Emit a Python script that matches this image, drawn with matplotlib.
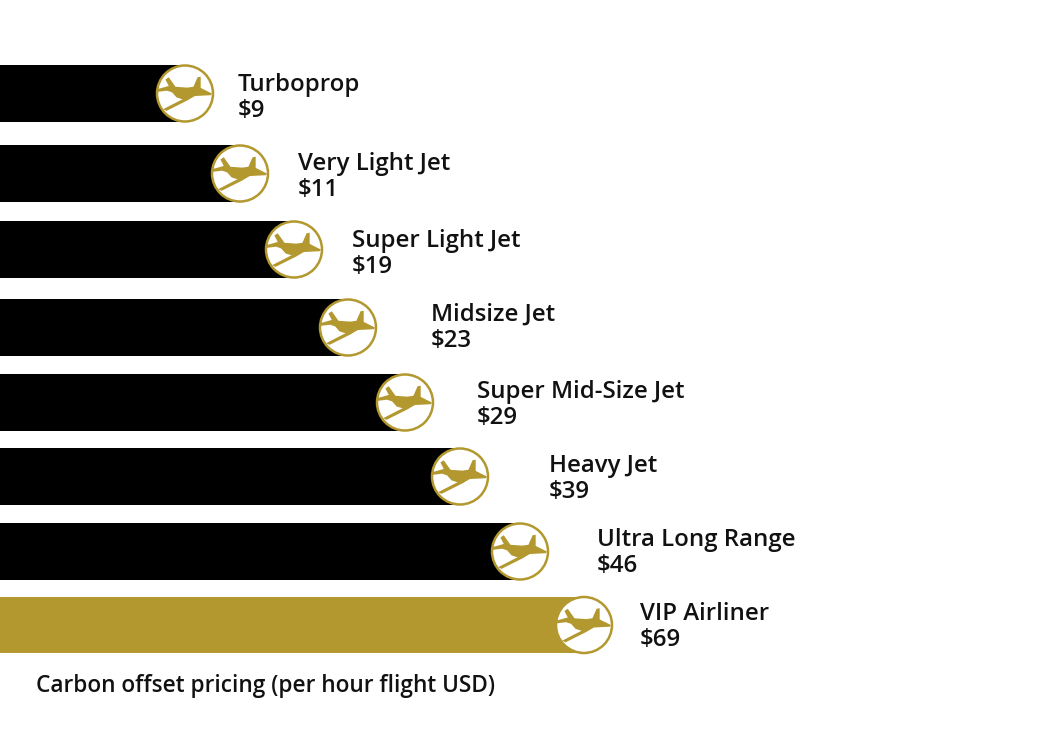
import matplotlib
matplotlib.use("Agg")
import matplotlib.pyplot as plt
from matplotlib.patches import Circle, Polygon

categories = ["Turboprop", "Very Light Jet", "Super Light Jet", "Midsize Jet",
              "Super Mid-Size Jet", "Heavy Jet", "Ultra Long Range", "VIP Airliner"]
prices = [9, 11, 19, 23, 29, 39, 46, 69]
bar_lengths = [185, 240, 294, 348, 405, 460, 520, 584]
footer = "Carbon offset pricing (per hour flight USD)"

bar_tops = [65, 145, 221, 299, 374, 448, 523, 597]
bar_bottoms = [122, 202, 278, 356, 431, 505, 580, 653]
label_x = [238, 298, 352, 431, 477, 549, 597, 640]
label_y = [85, 164, 241, 315, 392, 466, 540, 614]
GOLD = "#b2982f"
BLACK = "#000000"
TEXT = "#111111"

plane_body = [(-.97, -.16), (-.58, -.27), (-.70, -.50), (-.58, -.58), (-.34, -.24), (.08, -.21),
              (.30, -.24), (.45, -.58), (.56, -.60), (.56, -.20), (.96, .00), (.93, .06),
              (.36, .09), (.02, .24), (-.30, .14), (-.46, -.04), (-.64, -.10), (-.97, -.06)]
plane_wing = [(-.78, .56), (.02, .15), (.32, .10), (.10, .24), (-.66, .62)]

plt.rcParams["font.family"] = ["Open Sans", "DejaVu Sans"]
fig = plt.figure(figsize=(10.6, 7.5), dpi=100, facecolor="white")
ax = fig.add_axes([0, 0, 1, 1])
ax.set_xlim(0, 1060)
ax.set_ylim(750, 0)
ax.axis("off")
ax.set_aspect("equal")

n = len(categories)
for i in range(n):
    c = GOLD if i == n - 1 else BLACK
    top, bottom = bar_tops[i], bar_bottoms[i]
    ax.barh((top + bottom) / 2, bar_lengths[i], height=bottom - top, color=c, zorder=1)
    cx, cy, r = bar_lengths[i], (top + bottom) / 2, 28
    ax.add_patch(Circle((cx, cy), r, facecolor="white", edgecolor=GOLD, linewidth=1.8, zorder=2))
    for shape in (plane_body, plane_wing):
        ax.add_patch(Polygon([(cx + x * r, cy + y * r) for x, y in shape],
                             closed=True, facecolor=GOLD, edgecolor="none", zorder=3))
    ax.text(label_x[i], label_y[i], categories[i], fontsize=17.3, fontweight="semibold",
            color=TEXT, va="center", ha="left")
    ax.text(label_x[i], label_y[i] + 26, f"${prices[i]}", fontsize=17.3, fontweight="semibold",
            color=TEXT, va="center", ha="left")

ax.text(36, 686, footer, fontsize=16.3, fontweight="semibold", color=TEXT, va="center", ha="left")
fig.savefig("out.png", dpi=100, facecolor="white")
